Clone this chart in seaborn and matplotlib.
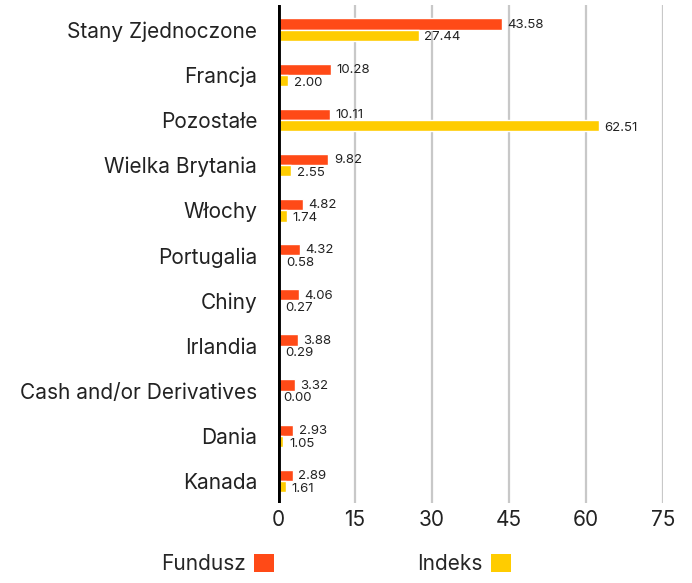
import pandas as pd
import matplotlib
matplotlib.use("Agg")
import matplotlib.pyplot as plt
import seaborn as sns
from matplotlib.patches import Patch


# ==========================
# DATA
# ==========================

countries = [
    "Stany Zjednoczone", "Francja", "Pozostałe", "Wielka Brytania", "Włochy",
    "Portugalia", "Chiny", "Irlandia", "Cash and/or Derivatives", "Dania", "Kanada",
]
fund = [43.58, 10.28, 10.11, 9.82, 4.82, 4.32, 4.06, 3.88, 3.32, 2.93, 2.89]
index = [27.44, 2.00, 62.51, 2.55, 1.74, 0.58, 0.27, 0.29, 0.00, 1.05, 1.61]
series_names = ["Fundusz", "Indeks"]
x_ticks = [0, 15, 30, 45, 60, 75]

colors = ["#FF4A17", "#FFCC00"]


# ==========================
# TABLE
# ==========================

df = pd.DataFrame({
    "kraj": countries * 2,
    "seria": [series_names[0]] * len(countries) + [series_names[1]] * len(countries),
    "wartosc": fund + index,
})


# ==========================
# PLOT
# ==========================

sns.set_theme(style="white")
plt.rcParams["font.family"] = ["Inter", "DejaVu Sans"]

fig = plt.figure(figsize=(6.92, 5.83), dpi=100)
ax = fig.add_axes([0.4017, 0.137, 0.5566, 0.8546])

sns.barplot(
    data=df, y="kraj", x="wartosc", hue="seria",
    order=countries, hue_order=series_names,
    palette=colors, orient="h", width=0.5, saturation=1,
    legend=False, ax=ax,
)

# value labels, orange slightly up, yellow slightly down
for container, vals, dy in zip(ax.containers, [fund, index], [-0.5, -1.5]):
    for bar, v in zip(container, vals):
        ax.annotate(
            f"{v:.2f}",
            (bar.get_width(), bar.get_y() + bar.get_height() / 2),
            xytext=(4, dy), textcoords="offset points",
            va="center", ha="left", fontsize=9.5, color="#222222",
        )

ax.set_xlim(0, 75)
ax.set_ylim(10.49, -0.55)
ax.set_xticks(x_ticks)
ax.set_xlabel("")
ax.set_ylabel("")

ax.grid(axis="x", color="#c8c8c8", linewidth=1.6)
ax.grid(axis="y", visible=False)
ax.set_axisbelow(True)
sns.despine(ax=ax, left=True, bottom=True)
ax.axvline(0, color="black", linewidth=3.5, zorder=5)

ax.tick_params(axis="y", length=0, pad=15, labelsize=15, colors="#222222")
ax.tick_params(axis="x", length=0, pad=5, labelsize=15, colors="#222222")


# ==========================
# LEGEND
# ==========================

handles = [Patch(facecolor=c, edgecolor="none") for c in colors]
fig.legend(
    handles, series_names,
    loc="center", bbox_to_anchor=(0.4855, 0.032),
    ncol=2, frameon=False, markerfirst=False,
    handlelength=0.96, handleheight=0.96, handletextpad=0.4,
    columnspacing=6.9, fontsize=15,
)

fig.savefig("out.png", dpi=100)
